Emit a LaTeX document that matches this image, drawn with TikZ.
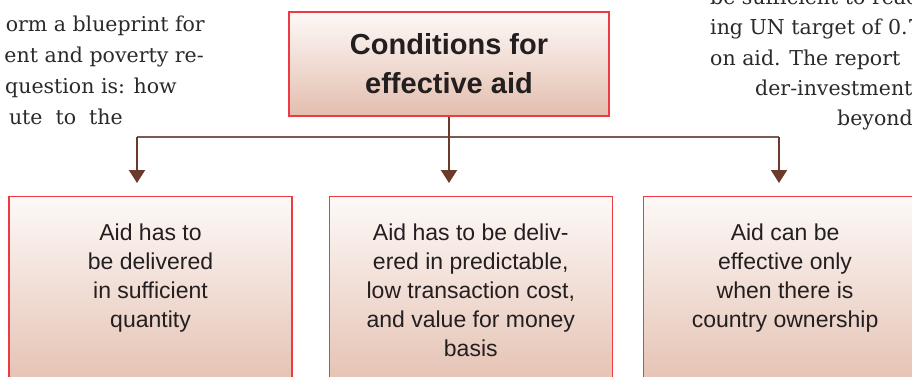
\documentclass[tikz,border=0pt]{standalone}
\usepackage{fontspec}
\setmainfont{DejaVu Serif}
\newfontfamily\boxfont{Liberation Sans}
\usetikzlibrary{arrows.meta,positioning}
\definecolor{boxred}{HTML}{EE3A43}
\definecolor{boxtop}{HTML}{FDF9F7}
\definecolor{boxbot}{HTML}{E3BEAE}
\definecolor{arrbrown}{HTML}{6B3A2B}
\definecolor{busgray}{HTML}{7A5C55}
\definecolor{inktext}{HTML}{231F20}
\definecolor{pagetext}{HTML}{2A2A2A}
\newcommand{\condtext}[1]{\parbox[t][200pt][t]{283pt}{\centering\vspace*{27pt}#1}}

\begin{document}
\begin{tikzpicture}[
  x=1pt, y=1pt,
  head/.style={draw=boxred, line width=1.3pt, top color=boxtop, bottom color=boxbot,
               minimum width=320pt, minimum height=104pt, inner sep=0pt, align=center,
               font=\boxfont\bfseries\fontsize{29}{39}\selectfont, text=inktext},
  cond/.style={draw=boxred, line width=1.3pt, top color=boxtop, bottom color=boxbot,
               inner sep=0pt, anchor=north, text=inktext,
               font=\boxfont\fontsize{23}{29}\selectfont},
  arr/.style={-{Triangle[length=13pt,width=16pt]}, line width=2pt, draw=arrbrown,
              shorten >=13pt},
  bus/.style={line width=2pt, draw=busgray},
  page/.style={font=\fontsize{20.5}{30}\selectfont, text=pagetext, inner sep=0pt},
]
\useasboundingbox (0,0) rectangle (912,-376);
\clip (0,0) rectangle (912,-376);

\node[page, anchor=base east] (l1) at (205,-31) {orm a blueprint for};
\node[page, anchor=base east] (l2) at (204,-62) {ent and poverty re-};
\node[page, anchor=base east] (l3) at (177,-93) {question is: how};
\node[page, anchor=base east] (l4) at (123,-124) {ute\ \ to\ \ the};
\node[page, anchor=base west] (r0) at (710,-4) {be sufficient to reach};
\node[page, anchor=base west] (r1) at (710,-34) {ing UN target of 0.7};
\node[page, anchor=base west] (r2) at (710,-65) {on aid. The report};
\node[page, anchor=base west] (r3) at (755,-95) {der-investment};
\node[page, anchor=base west] (r4) at (837,-125) {beyond};

\node[head] (top) at (449,-64) {Conditions for\\effective aid};
\node[cond] (b1) at (150.5,-196) {\condtext{Aid has to\\be delivered\\in sufficient\\quantity}};
\node[cond, right=36pt of b1] (b2) {\condtext{Aid has to be deliv-\\ered in predictable,\\low transaction cost,\\and value for money\\basis}};
\node[cond, right=30pt of b2] (b3) {\condtext{Aid can be\\effective only\\when there is\\country ownership}};

\coordinate (j1) at (137,-137);
\coordinate (j3) at (779,-137);
\draw[bus] (j1) -- (j3);
\draw[arr] (top.south) -- (top.south |- b2.north);
\draw[arr] (j1) -- (j1 |- b1.north);
\draw[arr] (j3) -- (j3 |- b3.north);
\end{tikzpicture}
\end{document}
